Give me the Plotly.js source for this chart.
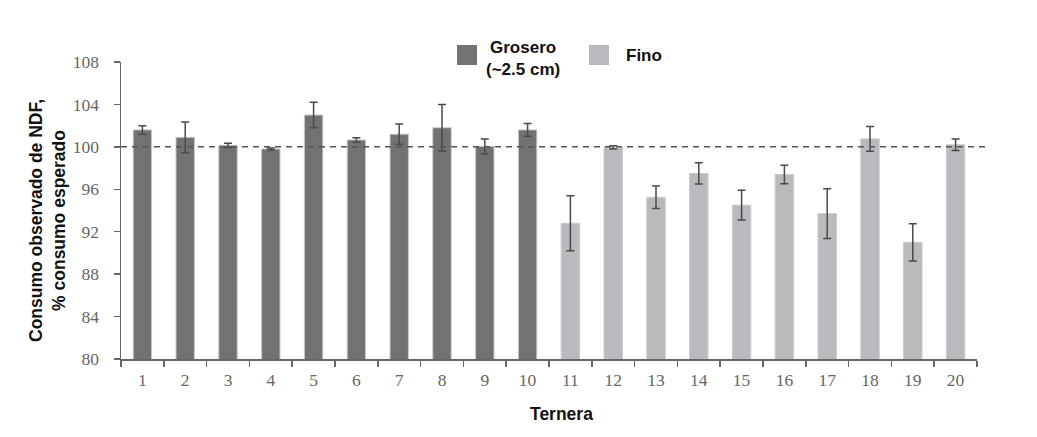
<!DOCTYPE html>
<html>
<head>
<meta charset="utf-8">
<script src="https://cdn.plot.ly/plotly-3.0.1.min.js"></script>
<style>
  body { margin: 0; background: #fff; }
  #chart { width: 1037px; height: 437px; }
</style>
</head>
<body>
<div id="chart"></div>
<script>
// Terneras 1-10: forraje grosero, 11-20: fino
const groseroX = ['1', '2', '3', '4', '5', '6', '7', '8', '9', '10'];
const groseroY = [101.6, 100.9, 100.15, 99.8, 103.0, 100.65, 101.2, 101.8, 100.05, 101.6];
const groseroErr = [0.4, 1.45, 0.2, 0.1, 1.2, 0.2, 0.95, 2.2, 0.7, 0.6];

const finoX = ['11', '12', '13', '14', '15', '16', '17', '18', '19', '20'];
const finoY = [92.8, 99.95, 95.25, 97.5, 94.5, 97.4, 93.7, 100.75, 91.0, 100.2];
const finoErr = [2.6, 0.15, 1.05, 1.0, 1.4, 0.87, 2.35, 1.17, 1.75, 0.55];

const referencia = 100;

const serif = 'Liberation Serif, Times New Roman, serif';
const sans = 'Liberation Sans, Arial, sans-serif';

// px -> paper helpers (plot area: x 121..977, y 62..359)
const px = v => (v - 121) / 856;
const py = v => (359 - v) / 297;

function barTrace(name, x, y, err, color) {
  return {
    type: 'bar',
    name: name,
    x: x,
    y: y,
    width: 0.43,
    marker: { color: color, line: { color: '#c9c9cb', width: 1 } },
    error_y: { type: 'data', array: err, visible: true, color: '#4a4a4a', thickness: 1.5, width: 4 },
    showlegend: false
  };
}

const traces = [
  barTrace('Grosero (~2.5 cm)', groseroX, groseroY, groseroErr, '#727272'),
  barTrace('Fino', finoX, finoY, finoErr, '#b9babd')
];

const layout = {
  width: 1037,
  height: 437,
  margin: { l: 121, r: 60, t: 62, b: 78 },
  paper_bgcolor: '#fff',
  plot_bgcolor: '#fff',
  barmode: 'overlay',
  xaxis: {
    type: 'category',
    categoryorder: 'array',
    categoryarray: groseroX.concat(finoX),
    showline: true,
    linecolor: '#666',
    linewidth: 1.5,
    ticks: 'outside',
    tickson: 'boundaries',
    ticklen: 6,
    tickcolor: '#666',
    tickwidth: 1.5,
    ticklabelstandoff: 4,
    showgrid: false,
    tickfont: { family: serif, size: 17.5, color: '#666' }
  },
  yaxis: {
    range: [80, 108],
    dtick: 4,
    showline: true,
    linecolor: '#666',
    linewidth: 1.5,
    ticks: 'outside',
    ticklen: 6,
    tickcolor: '#666',
    tickwidth: 1.5,
    ticklabelstandoff: 11,
    showgrid: false,
    zeroline: false,
    tickfont: { family: serif, size: 17.5, color: '#666' }
  },
  shapes: [
    { type: 'line', xref: 'paper', yref: 'y', x0: 0, x1: 1.013, y0: referencia, y1: referencia,
      line: { color: '#555', width: 1.5, dash: '6px,5px' } },
    // leyenda
    { type: 'rect', xref: 'paper', yref: 'paper', x0: px(457), x1: px(477),
      y0: py(65), y1: py(45), fillcolor: '#727272', line: { width: 0 } },
    { type: 'rect', xref: 'paper', yref: 'paper', x0: px(589), x1: px(609),
      y0: py(65), y1: py(45), fillcolor: '#b9babd', line: { width: 0 } }
  ],
  annotations: [
    { xref: 'paper', yref: 'paper', x: px(523), y: py(59), xanchor: 'center', yanchor: 'middle',
      text: 'Grosero<br>(~2.5 cm)', showarrow: false, align: 'center',
      font: { family: sans, size: 17, color: '#111', weight: 'bold' } },
    { xref: 'paper', yref: 'paper', x: px(624), y: py(55), xanchor: 'left', yanchor: 'middle',
      text: 'Fino', showarrow: false,
      font: { family: sans, size: 17, color: '#111', weight: 'bold' } },
    // títulos de ejes
    { xref: 'paper', yref: 'paper', x: px(561), y: py(414), xanchor: 'center', yanchor: 'middle',
      text: 'Ternera', showarrow: false,
      font: { family: sans, size: 17.5, color: '#111', weight: 'bold' } },
    { xref: 'paper', yref: 'paper', x: px(47), y: py(221), xanchor: 'center', yanchor: 'middle',
      textangle: -90, align: 'center',
      text: 'Consumo observado de NDF,<br>% consumo esperado', showarrow: false,
      font: { family: sans, size: 17.5, color: '#111', weight: 'bold' } }
  ]
};

Plotly.newPlot('chart', traces, layout, { displayModeBar: false, staticPlot: true });
</script>
</body>
</html>
